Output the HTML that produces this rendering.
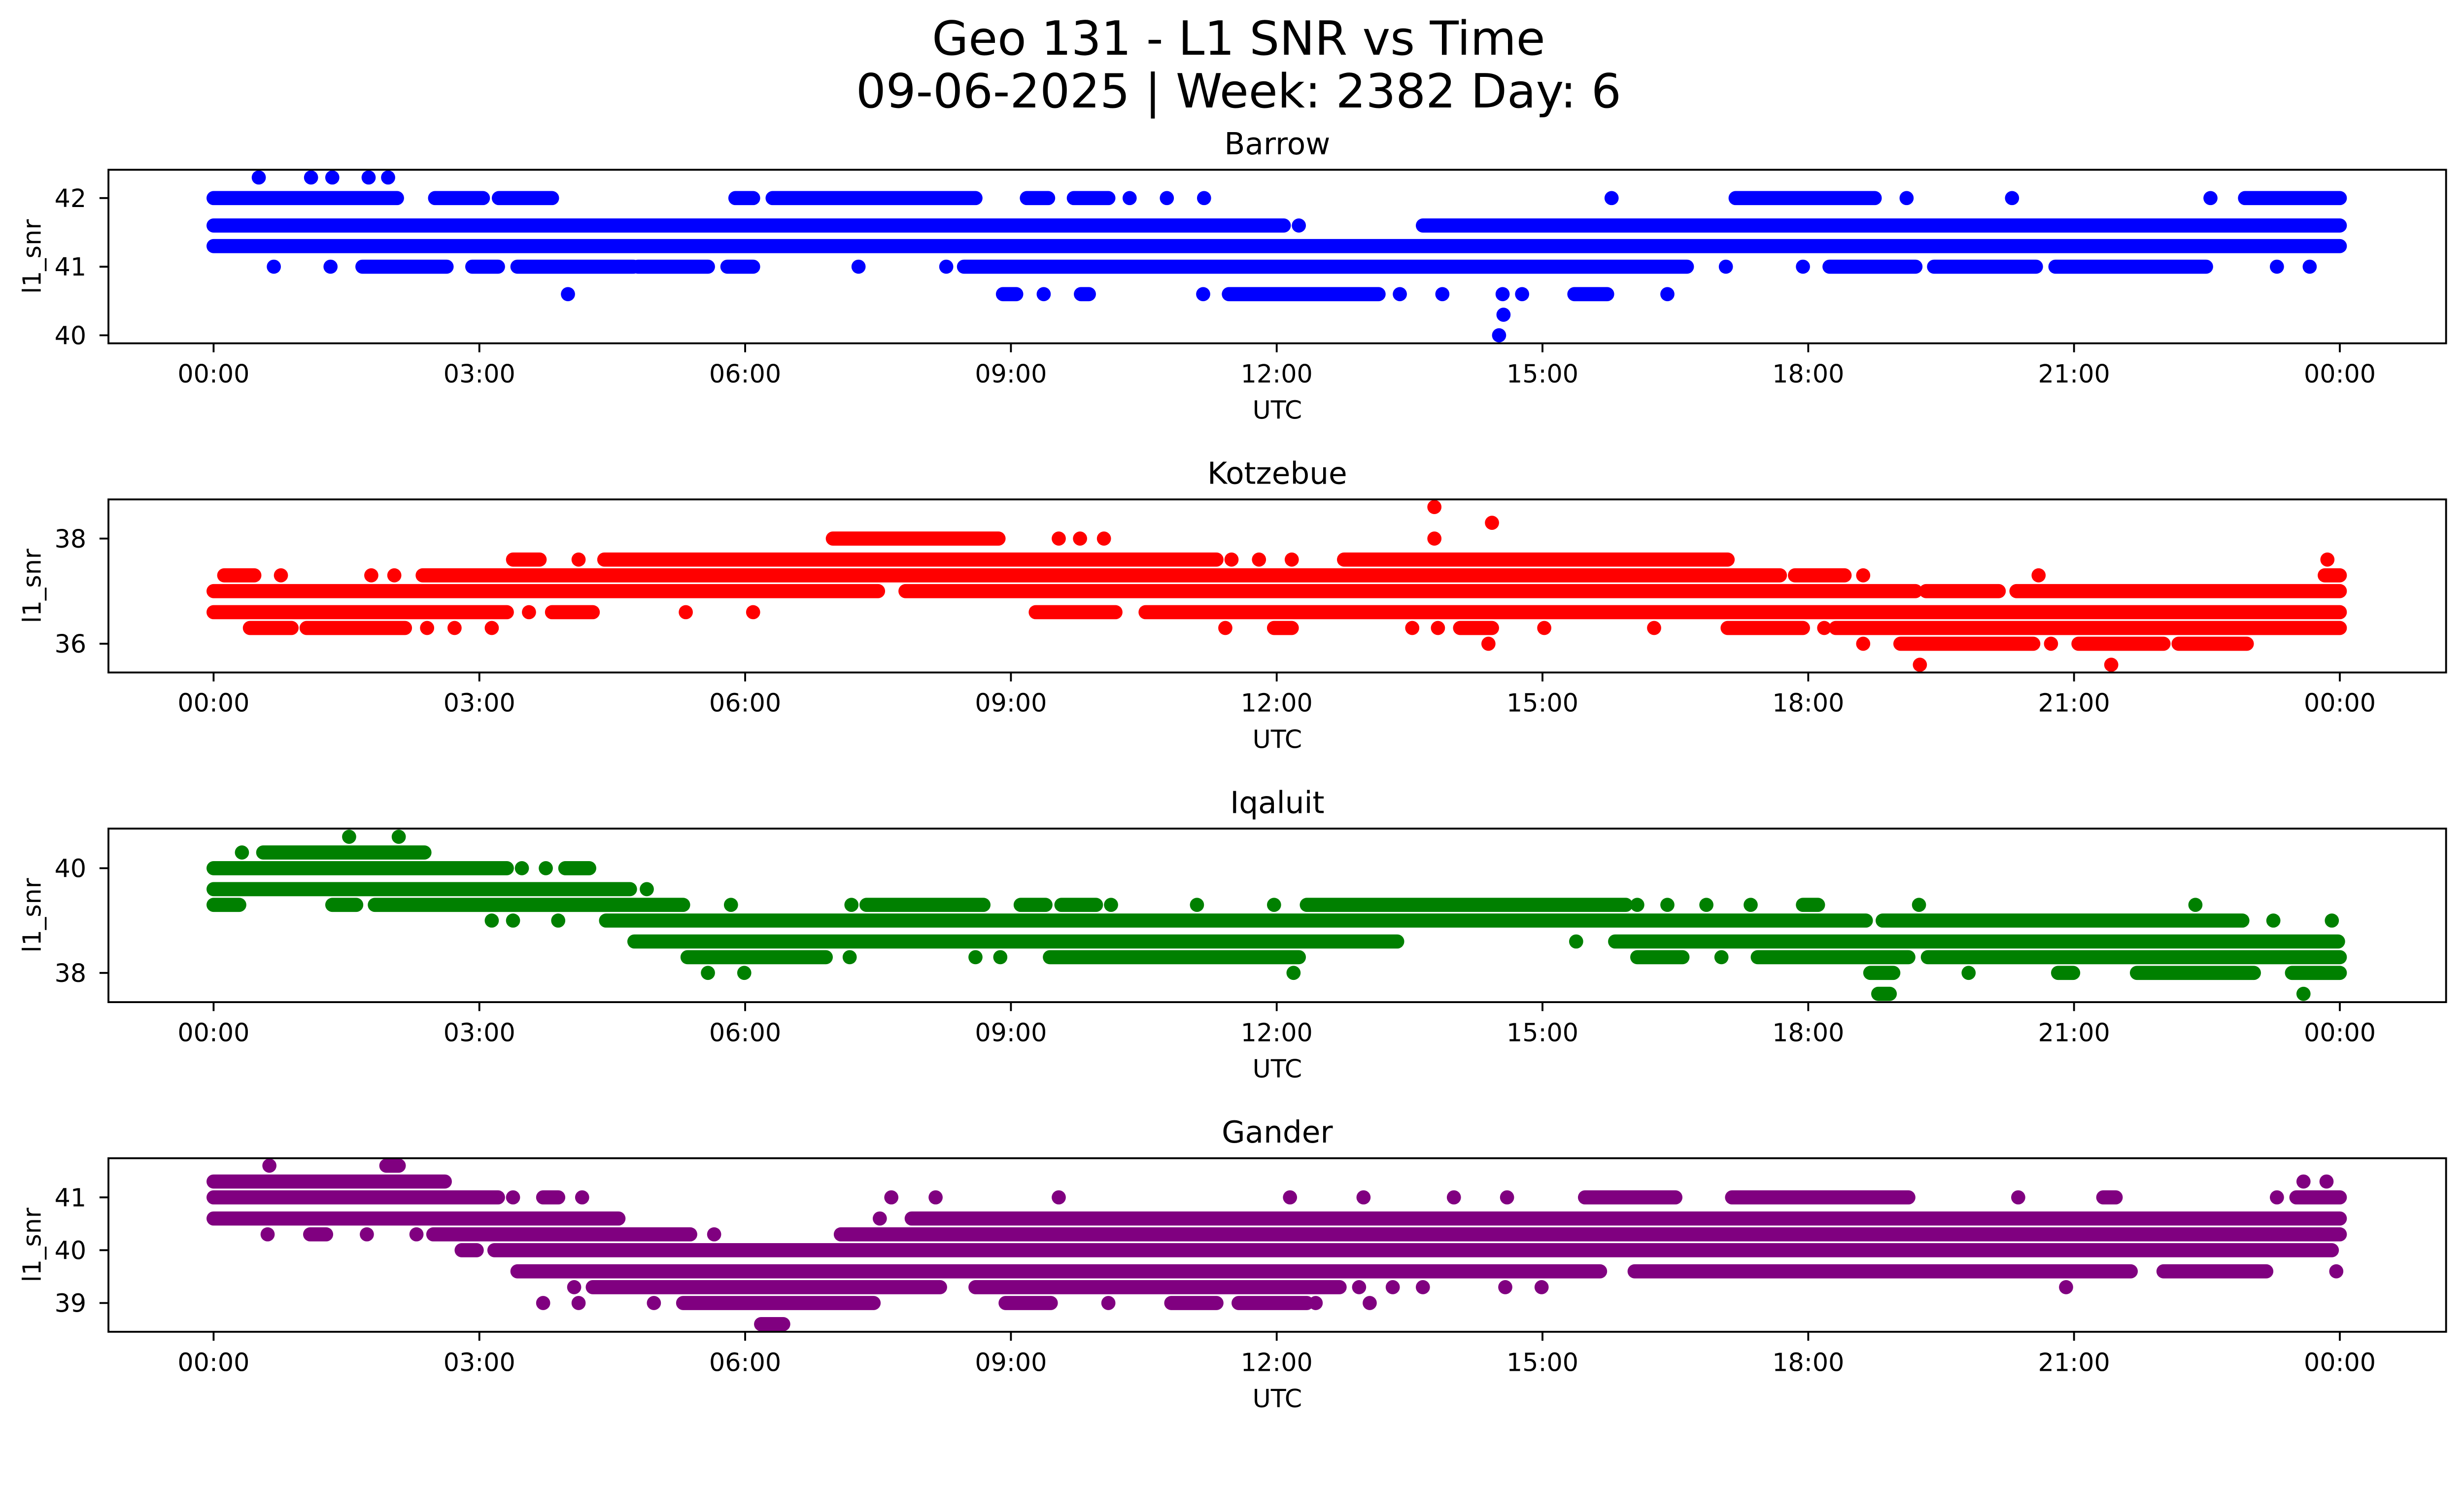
<!DOCTYPE html>
<html><head><meta charset="utf-8">
<style>
html,body{margin:0;padding:0;background:#fff;overflow:hidden;}
svg{display:block;width:100vw;height:calc(100vw * 3033 / 5226);}
text{font-family:"DejaVu Sans","Liberation Sans",sans-serif;fill:#000;}
</style></head>
<body>
<svg id="fig" xmlns="http://www.w3.org/2000/svg" viewBox="0 0 5226 3033" preserveAspectRatio="none">
<rect x="0" y="0" width="5226" height="3033" fill="#fff"/>
<text x="2627" y="116" font-size="100" text-anchor="middle">Geo 131 - L1 SNR vs Time</text>
<text x="2627" y="228" font-size="100" text-anchor="middle">09-06-2025 | Week: 2382 Day: 6</text>
</svg>
<script>
// ---- shared axis data ----
const xTickHours = [0,3,6,9,12,15,18,21,24];
const xTickLabels = ["00:00","03:00","06:00","09:00","12:00","15:00","18:00","21:00","00:00"];
const stationNames = ["Barrow","Kotzebue","Iqaluit","Gander"];
const stationColors = ["#0000ff","#ff0000","#008000","#800080"];

// ---- Barrow ----
const barrowLevels = [42.3,42.0,41.6,41.3,41.0,40.6,40.3,40.0];
const barrowRuns = [
 [[0.51,0.51],[1.10,1.10],[1.34,1.34],[1.75,1.75],[1.97,1.97]],
 [[0,2.07],[2.5,3.04],[3.22,3.82],[5.89,6.09],[6.31,8.6],[9.18,9.42],[9.71,10.1],[10.34,10.34],[10.76,10.76],[11.18,11.18],[15.78,15.78],[17.18,18.75],[19.11,19.11],[20.3,20.3],[22.54,22.54],[22.93,24]],
 [[0,12.08],[12.25,12.25],[13.65,24]],
 [[0,24]],
 [[0.68,0.68],[1.32,1.32],[1.68,2.63],[2.92,3.21],[3.43,4.74],[4.79,5.58],[5.8,6.09],[7.28,7.28],[8.27,8.27],[8.47,16.63],[17.07,17.07],[17.94,17.94],[18.24,19.21],[19.42,20.57],[20.79,22.49],[23.29,23.29],[23.66,23.66]],
 [[4.0,4.0],[8.91,9.06],[9.37,9.37],[9.79,9.88],[11.17,11.17],[11.46,13.15],[13.39,13.39],[13.87,13.87],[14.55,14.55],[14.77,14.77],[15.36,15.73],[16.41,16.41]],
 [[14.56,14.56]],
 [[14.51,14.51]]
];
const barrowTicks = [40,41,42];

// ---- Kotzebue ----
const kotzLevels = [38.6,38.3,38.0,37.6,37.3,37.0,36.6,36.3,36.0,35.6];
const kotzRuns = [
 [[13.78,13.78]],
 [[14.43,14.43]],
 [[6.99,8.86],[9.54,9.54],[9.78,9.78],[10.05,10.05],[13.78,13.78]],
 [[3.38,3.68],[4.12,4.12],[4.41,11.32],[11.49,11.49],[11.8,11.8],[12.17,12.17],[12.76,17.09],[23.86,23.86]],
 [[0.12,0.46],[0.76,0.76],[1.78,1.78],[2.04,2.04],[2.36,17.68],[17.85,18.41],[18.62,18.62],[20.6,20.6],[23.83,24]],
 [[0,7.5],[7.81,19.21],[19.33,20.15],[20.35,24]],
 [[0,3.31],[3.56,3.56],[3.82,4.28],[5.33,5.33],[6.09,6.09],[9.28,10.18],[10.52,24]],
 [[0.41,0.88],[1.05,2.16],[2.41,2.41],[2.72,2.72],[3.14,3.14],[11.42,11.42],[11.97,12.17],[13.53,13.53],[13.82,13.82],[14.07,14.43],[15.02,15.02],[16.26,16.26],[17.09,17.94],[18.18,18.18],[18.31,24]],
 [[14.39,14.39],[18.62,18.62],[19.04,20.54],[20.74,20.74],[21.05,22.01],[22.18,22.95]],
 [[19.26,19.26],[21.42,21.42]]
];
const kotzTicks = [36,38];

// ---- Iqaluit ----
const iqalLevels = [40.6,40.3,40.0,39.6,39.3,39.0,38.6,38.3,38.0,37.6];
const iqalRuns = [
 [[1.53,1.53],[2.09,2.09]],
 [[0.32,0.32],[0.56,2.38]],
 [[0,3.31],[3.48,3.48],[3.75,3.75],[3.97,4.24]],
 [[0,4.7],[4.89,4.89]],
 [[0,0.29],[1.34,1.61],[1.82,5.3],[5.84,5.84],[7.2,7.2],[7.37,8.69],[9.11,9.39],[9.57,9.96],[10.13,10.13],[11.1,11.1],[11.97,11.97],[12.34,15.94],[16.07,16.07],[16.41,16.41],[16.85,16.85],[17.35,17.35],[17.94,18.11],[19.25,19.25],[22.37,22.37]],
 [[3.14,3.14],[3.38,3.38],[3.89,3.89],[4.43,18.65],[18.84,22.9],[23.25,23.25],[23.91,23.91]],
 [[4.75,13.36],[15.38,15.38],[15.82,23.98]],
 [[5.35,6.91],[7.18,7.18],[8.6,8.6],[8.88,8.88],[9.44,12.25],[16.07,16.58],[17.02,17.02],[17.43,19.13],[19.35,24]],
 [[5.58,5.58],[5.99,5.99],[12.19,12.19],[18.7,18.96],[19.81,19.81],[20.82,20.99],[21.71,23.03],[23.46,24]],
 [[18.79,18.92],[23.59,23.59]]
];
const iqalTicks = [38,40];

// ---- Gander ----
const ganderLevels = [41.6,41.3,41.0,40.6,40.3,40.0,39.6,39.3,39.0,38.6];
const ganderRuns = [
 [[0.63,0.63],[1.95,2.09]],
 [[0,2.61],[23.59,23.59],[23.85,23.85]],
 [[0,3.21],[3.38,3.38],[3.72,3.89],[4.16,4.16],[7.65,7.65],[8.15,8.15],[9.54,9.54],[12.15,12.15],[12.98,12.98],[14.0,14.0],[14.6,14.6],[15.48,16.5],[17.14,19.13],[20.37,20.37],[21.33,21.47],[23.29,23.29],[23.51,24]],
 [[0,4.57],[7.52,7.52],[7.88,24]],
 [[0.61,0.61],[1.09,1.27],[1.73,1.73],[2.29,2.29],[2.48,5.38],[5.65,5.65],[7.08,24]],
 [[2.8,2.97],[3.17,23.91]],
 [[3.43,15.65],[16.04,21.64],[22.01,23.17],[23.96,23.96]],
 [[4.07,4.07],[4.28,8.2],[8.6,12.71],[12.93,12.93],[13.31,13.31],[13.65,13.65],[14.58,14.58],[14.99,14.99],[20.91,20.91]],
 [[3.72,3.72],[4.12,4.12],[4.97,4.97],[5.3,7.45],[8.94,9.45],[10.1,10.1],[10.81,11.32],[11.57,12.34],[12.44,12.44],[13.05,13.05]],
 [[6.18,6.43]]
];
const ganderTicks = [39,40,41];

const NS = "http://www.w3.org/2000/svg";
const svg = document.getElementById("fig");
const AX_L = 230, AX_R = 5188;
function xScale(h){ return 453 + h * 187.9; }
const axesGeom = [
 {top:360, bottom:728, refV:42, refY:420, ppu:145.5},
 {top:1059, bottom:1426, refV:38, refY:1142, ppu:111.5},
 {top:1757, bottom:2125, refV:40, refY:1841, ppu:111},
 {top:2456, bottom:2824, refV:41, refY:2539, ppu:112}
];
const allLevels = [barrowLevels,kotzLevels,iqalLevels,ganderLevels];
const allRuns = [barrowRuns,kotzRuns,iqalRuns,ganderRuns];
const allTicks = [barrowTicks,kotzTicks,iqalTicks,ganderTicks];

function mk(tag, attrs){
  const e = document.createElementNS(NS, tag);
  for (const k in attrs) e.setAttribute(k, attrs[k]);
  return e;
}

for (let a = 0; a < 4; a++){
  const g = axesGeom[a];
  const yScale = v => g.refY + (g.refV - v) * g.ppu;
  const grp = mk("g", {});
  
  
  svg.appendChild(grp);

  const sg = mk("g", {fill: stationColors[a], stroke: stationColors[a]});
  
  
  grp.appendChild(sg);
  const levels = allLevels[a], runs = allRuns[a];
  for (let i = 0; i < levels.length; i++){
    const y = yScale(levels[i]);
    for (const r of runs[i]){
      let el;
      if (r[0] === r[1]){
        el = mk("circle", {cx: xScale(r[0]), cy: y, r: 15, stroke: "none"});
      } else {
        el = mk("line", {x1: xScale(r[0]), x2: xScale(r[1]), y1: y, y2: y, "stroke-width": 30, "stroke-linecap": "round"});
      }
      
      
      sg.appendChild(el);
    }
  }

  const fr = mk("rect", {x: AX_L, y: g.top, width: AX_R - AX_L, height: g.bottom - g.top, fill: "none", stroke: "#000", "stroke-width": 4});
  
  
  grp.appendChild(fr);

  for (let t = 0; t < xTickHours.length; t++){
    const x = xScale(xTickHours[t]);
    const tk = mk("line", {x1: x, x2: x, y1: g.bottom, y2: g.bottom + 19, stroke: "#000", "stroke-width": 4});
    
    
    grp.appendChild(tk);
    const tl = mk("text", {x: x, y: g.bottom + 83, "font-size": 53, "text-anchor": "middle"});
    tl.textContent = xTickLabels[t];
    
    
    grp.appendChild(tl);
  }
  for (const v of allTicks[a]){
    const y = yScale(v);
    const tk = mk("line", {x1: AX_L - 19, x2: AX_L, y1: y, y2: y, stroke: "#000", "stroke-width": 4});
    
    
    grp.appendChild(tk);
    const tl = mk("text", {x: 183, y: y + 19, "font-size": 53, "text-anchor": "end"});
    tl.textContent = String(v);
    
    
    grp.appendChild(tl);
  }
  const xl = mk("text", {x: (AX_L + AX_R) / 2, y: g.bottom + 160, "font-size": 53, "text-anchor": "middle"});
  xl.textContent = "UTC";
  
  
  grp.appendChild(xl);
  const cy = (g.top + g.bottom) / 2;
  const yl = mk("text", {x: 0, y: 0, "font-size": 53, "text-anchor": "middle", transform: "translate(86," + cy + ") rotate(-90)"});
  yl.textContent = "l1_snr";
  
  
  grp.appendChild(yl);
  const tt = mk("text", {x: (AX_L + AX_R) / 2, y: g.top - 33, "font-size": 64, "text-anchor": "middle"});
  tt.textContent = stationNames[a];
  
  
  grp.appendChild(tt);
}
</script>
</body></html>
